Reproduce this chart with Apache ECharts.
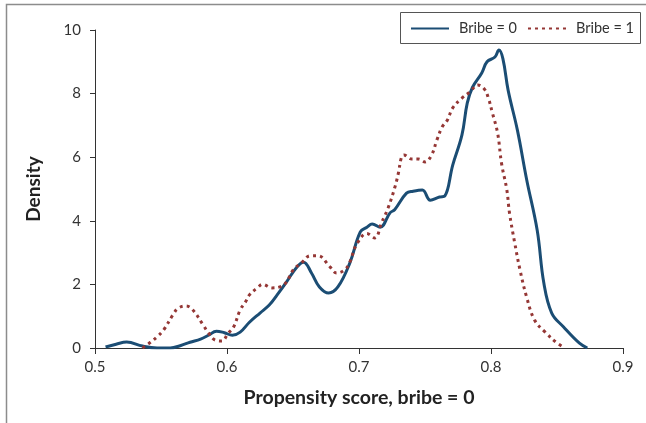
<!DOCTYPE html>
<html>
<head>
<meta charset="utf-8">
<script src="https://cdn.jsdelivr.net/npm/echarts@6/dist/echarts.min.js"></script>
<style>
  html, body { margin: 0; padding: 0; background: #fff; }
  #chart { width: 646px; height: 423px; }
</style>
</head>
<body>
<div id="chart"></div>
<script>
// Bribe = 0 density (solid blue)
const blue0X = [0.508, 0.516, 0.524, 0.536, 0.547, 0.557, 0.565, 0.572, 0.58, 0.586, 0.592, 0.598, 0.604, 0.61, 0.617, 0.625, 0.632, 0.638, 0.645, 0.653, 0.658, 0.664, 0.670, 0.677, 0.684, 0.693, 0.701, 0.706, 0.710, 0.716, 0.7235, 0.727, 0.736, 0.741, 0.748, 0.754, 0.761, 0.765, 0.771, 0.778, 0.782, 0.786, 0.793, 0.797, 0.803, 0.806, 0.809, 0.813, 0.820, 0.827, 0.835, 0.840, 0.846, 0.855, 0.867, 0.873]
const blue0Y = [0.03, 0.12, 0.19, 0.06, 0, 0, 0.08, 0.18, 0.28, 0.4, 0.53, 0.48, 0.4, 0.5, 0.81, 1.1, 1.35, 1.67, 2.07, 2.55, 2.7, 2.36, 1.92, 1.73, 1.92, 2.67, 3.65, 3.8, 3.9, 3.8, 4.25, 4.35, 4.87, 4.93, 4.97, 4.65, 4.75, 4.78, 5.75, 6.7, 7.7, 8.2, 8.65, 9.0, 9.15, 9.37, 9.1, 8.1, 6.85, 5.3, 3.7, 2.05, 1.1, 0.66, 0.15, 0]

// Bribe = 1 density (dotted red)
const red1X = [0.536, 0.542, 0.547, 0.552, 0.559, 0.563, 0.569, 0.574, 0.582, 0.586, 0.591, 0.596, 0.601, 0.605, 0.61, 0.614, 0.617, 0.623, 0.627, 0.634, 0.64, 0.645, 0.65, 0.657, 0.663, 0.669, 0.678, 0.683, 0.689, 0.693, 0.698, 0.706, 0.712, 0.717, 0.722, 0.727, 0.73, 0.732, 0.734, 0.740, 0.745, 0.75, 0.755, 0.759, 0.763, 0.767, 0.771, 0.778, 0.784, 0.79, 0.795, 0.798, 0.801, 0.805, 0.808, 0.812, 0.814, 0.818, 0.822, 0.827, 0.833, 0.841, 0.85, 0.856]
const red1Y = [0, 0.18, 0.35, 0.57, 1.04, 1.25, 1.32, 1.2, 0.72, 0.47, 0.25, 0.22, 0.47, 0.66, 1.2, 1.45, 1.67, 1.89, 2.0, 1.89, 1.92, 2.07, 2.45, 2.7, 2.9, 2.9, 2.55, 2.36, 2.45, 2.7, 3.24, 3.6, 3.46, 3.93, 4.4, 5.03, 5.53, 5.97, 6.07, 5.94, 5.94, 5.85, 6.07, 6.54, 6.95, 7.17, 7.55, 7.86, 8.05, 8.27, 8.14, 7.86, 7.4, 6.76, 5.8, 4.97, 4.25, 3.3, 2.45, 1.6, 0.88, 0.5, 0.16, 0]

const seriesNames = ['Bribe = 0', 'Bribe = 1']

const zip = (xs, ys) => xs.map((x, i) => [x, ys[i]])

const FONT = 'Lato'
const chart = echarts.init(document.getElementById('chart'))

chart.setOption({
  animation: false,
  textStyle: { fontFamily: FONT },
  grid: { left: 95, right: 23, top: 30, bottom: 75 },
  graphic: [
    // outer chart border
    {
      type: 'rect', silent: true,
      shape: { x: 6.5, y: 4.5, width: 700, height: 500 },
      style: { fill: 'none', stroke: '#8c8c8c', lineWidth: 1.5 }
    },
    // legend box
    {
      type: 'rect', silent: true,
      shape: { x: 400.5, y: 12.5, width: 240, height: 31 },
      style: { fill: '#fff', stroke: '#555', lineWidth: 1 }
    }
  ],
  legend: {
    data: seriesNames,
    orient: 'horizontal',
    left: 410,
    top: 21,
    width: 236,
    padding: 0,
    itemWidth: 38,
    itemHeight: 14,
    itemGap: 10,
    itemStyle: { opacity: 0 },
    textStyle: { fontSize: 14.5, color: '#333', fontFamily: FONT, padding: [0, 0, 0, 5] },
    z: 10
  },
  xAxis: {
    type: 'value',
    min: 0.5,
    max: 0.9,
    interval: 0.1,
    name: 'Propensity score, bribe = 0',
    nameLocation: 'middle',
    nameGap: 40,
    nameTextStyle: { fontSize: 19.5, fontWeight: 'bold', color: '#222' },
    axisLine: { lineStyle: { color: '#333', width: 1 } },
    axisTick: { length: 6, lineStyle: { color: '#333' } },
    axisLabel: { fontSize: 15, color: '#333', margin: 12, formatter: v => v.toFixed(1) },
    splitLine: { show: false }
  },
  yAxis: {
    type: 'value',
    min: 0,
    max: 10,
    interval: 2,
    name: 'Density',
    nameLocation: 'middle',
    nameGap: 52,
    nameTextStyle: { fontSize: 19, fontWeight: 'bold', color: '#222' },
    axisLine: { show: true, lineStyle: { color: '#333', width: 1 } },
    axisTick: { show: true, length: 5, lineStyle: { color: '#333' } },
    axisLabel: { fontSize: 15, color: '#333', margin: 14 },
    splitLine: { show: false }
  },
  series: [
    {
      name: seriesNames[0],
      type: 'line',
      data: zip(blue0X, blue0Y),
      smooth: 0.4,
      symbol: 'none',
      lineStyle: { color: '#1b4d74', width: 3 },
      itemStyle: { color: '#1b4d74' }
    },
    {
      name: seriesNames[1],
      type: 'line',
      data: zip(red1X, red1Y),
      smooth: 0.4,
      symbol: 'none',
      lineStyle: { color: '#953735', width: 3, type: [3, 4] },
      itemStyle: { color: '#953735' }
    }
  ]
})
</script>
</body>
</html>
